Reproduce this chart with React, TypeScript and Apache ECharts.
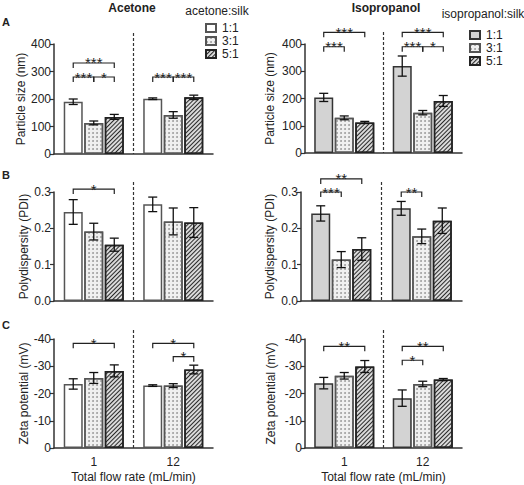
import React, { useEffect, useRef } from 'react';
import * as echarts from 'echarts';

const flowRates = ['1', '12'];
const ratios = ['1:1', '3:1', '5:1'];

// rows: 1:1, 3:1, 5:1 ; columns: flow rate 1, 12 mL/min
const acetoneSizeMean = [[190, 201], [113, 142], [135, 206]];
const acetoneSizeSD = [[10, 3], [7, 12], [9, 8]];
const isoSizeMean = [[204, 319], [129, 148], [112, 191]];
const isoSizeSD = [[15, 37], [7, 8], [4, 20]];
const acetonePdiMean = [[0.245, 0.266], [0.191, 0.219], [0.155, 0.216]];
const acetonePdiSD = [[0.034, 0.02], [0.023, 0.037], [0.018, 0.041]];
const isoPdiMean = [[0.241, 0.255], [0.114, 0.178], [0.143, 0.221]];
const isoPdiSD = [[0.021, 0.019], [0.022, 0.02], [0.031, 0.035]];
const acetoneZetaMean = [[-23.5, -22.9], [-25.7, -22.9], [-28.3, -28.8]];
const acetoneZetaSD = [[1.9, 0.3], [2.0, 0.7], [2.2, 1.6]];
const isoZetaMean = [[-23.8, -18.3], [-26.5, -23.5], [-29.9, -25.1]];
const isoZetaSD = [[2.1, 3.0], [1.2, 1.0], [2.2, 0.4]];

// significance brackets: [flowRateIndex, fromBar, toBar, level, stars]
const acetoneSizeSig: any[] = [[0, 0, 2, 331, '***'], [0, 0, 1, 280, '***'], [0, 1, 2, 280, '*'], [1, 0, 1, 280, '***'], [1, 1, 2, 280, '***']];
const isoSizeSig: any[] = [[0, 0, 2, 443, '***'], [0, 0, 1, 390, '***'], [1, 0, 2, 443, '***'], [1, 0, 1, 390, '***'], [1, 1, 2, 390, '*']];
const acetonePdiSig: any[] = [[0, 0, 2, 0.308, '*']];
const isoPdiSig: any[] = [[0, 0, 2, 0.336, '**'], [0, 0, 1, 0.3, '***'], [1, 0, 1, 0.3, '**']];
const acetoneZetaSig: any[] = [[0, 0, 2, -38.4, '*'], [1, 0, 2, -38.4, '*'], [1, 1, 2, -33.5, '*']];
const isoZetaSig: any[] = [[0, 0, 2, -37.3, '**'], [1, 0, 2, -37.3, '**'], [1, 0, 1, -32.2, '*']];

const yTicksSize = { min: 0, max: 400, interval: 100 };
const yTicksPdi = { min: 0, max: 0.3, interval: 0.1 };
const yTicksZeta = { min: -40, max: 0, interval: 10 };

const FONT = '"Liberation Sans", Arial, sans-serif';
const BAR_W = 19;
const BAR_GAP = 0.08;
const INK = '#222';

const dotDecal = {
  symbol: 'circle', symbolSize: 0.9, color: '#9a9a9a', backgroundColor: '#f0f0f0',
  dashArrayX: [1.2, 1.2], dashArrayY: [1.2, 1.2], rotation: 0,
};
const hatchDecal = {
  symbol: 'rect', symbolSize: 1, color: '#2a2a2a', backgroundColor: '#dadada',
  dashArrayX: [1, 0], dashArrayY: [0.9, 1.4], rotation: -Math.PI / 4,
};

function barStyle(solvent: string, k: number) {
  if (k === 0) {
    return solvent === 'ac'
      ? { color: '#ffffff', borderColor: '#555', borderWidth: 1.5 }
      : { color: '#d3d3d3', borderColor: '#333', borderWidth: 1.5 };
  }
  if (k === 1) return { color: '#f0f0f0', borderColor: '#555', borderWidth: 1.5, decal: dotDecal };
  return { color: '#dadada', borderColor: '#222', borderWidth: 1.5, decal: hatchDecal };
}

const panels = [
  { solvent: 'ac', mean: acetoneSizeMean, sd: acetoneSizeSD, sig: acetoneSizeSig, ticks: yTicksSize, yName: 'Particle size (nm)', left: 54, width: 159, top: 44, height: 110, nameGap: 21, dashTop: 33, fmt: (v: number) => String(v), inverse: false, last: false },
  { solvent: 'iso', mean: isoSizeMean, sd: isoSizeSD, sig: isoSizeSig, ticks: yTicksSize, yName: 'Particle size (nm)', left: 305, width: 157, top: 44, height: 109, nameGap: 29, dashTop: 32, fmt: (v: number) => String(v), inverse: false, last: false },
  { solvent: 'ac', mean: acetonePdiMean, sd: acetonePdiSD, sig: acetonePdiSig, ticks: yTicksPdi, yName: 'Polydispersity (PDI)', left: 54, width: 159, top: 192, height: 109, nameGap: 20, dashTop: 182, fmt: (v: number) => v.toFixed(1), inverse: false, last: false },
  { solvent: 'iso', mean: isoPdiMean, sd: isoPdiSD, sig: isoPdiSig, ticks: yTicksPdi, yName: 'Polydispersity (PDI)', left: 301, width: 161, top: 192, height: 109, nameGap: 25, dashTop: 182, fmt: (v: number) => v.toFixed(1), inverse: false, last: false },
  { solvent: 'ac', mean: acetoneZetaMean, sd: acetoneZetaSD, sig: acetoneZetaSig, ticks: yTicksZeta, yName: 'Zeta potential (mV)', left: 54, width: 159, top: 339, height: 109, nameGap: 20, dashTop: 330, fmt: (v: number) => String(v), inverse: true, last: true },
  { solvent: 'iso', mean: isoZetaMean, sd: isoZetaSD, sig: isoZetaSig, ticks: yTicksZeta, yName: 'Zeta potential (mV)', left: 305, width: 157, top: 339, height: 109, nameGap: 28, dashTop: 330, fmt: (v: number) => String(v), inverse: true, last: true },
];

const barOffset = (k: number) => (k - 1) * BAR_W * (1 + BAR_GAP);

function buildOption() {
  const grid: any[] = [];
  const xAxis: any[] = [];
  const yAxis: any[] = [];
  const series: any[] = [];
  const graphic: any[] = [];

  panels.forEach((p, i) => {
    grid.push({ left: p.left, width: p.width, top: p.top, height: p.height, containLabel: false });
    xAxis.push({
      type: 'category', gridIndex: i, data: flowRates,
      axisLine: { lineStyle: { color: '#333', width: 1.5 } },
      axisTick: { show: false },
      axisLabel: { show: p.last, fontFamily: FONT, fontSize: 12, color: INK, margin: 8 },
      name: p.last ? 'Total flow rate (mL/min)' : '', nameLocation: 'middle', nameGap: 23,
      nameTextStyle: { fontFamily: FONT, fontSize: 12, color: INK },
      splitLine: { show: false },
    });
    yAxis.push({
      type: 'value', gridIndex: i, min: p.ticks.min, max: p.ticks.max, interval: p.ticks.interval,
      inverse: p.inverse,
      axisLine: { show: true, lineStyle: { color: '#333', width: 1.5 } },
      axisTick: { show: true, length: 4, lineStyle: { color: '#333', width: 1.2 } },
      axisLabel: { fontFamily: FONT, fontSize: 12, color: INK, margin: 3, formatter: p.fmt },
      splitLine: { show: false },
      name: p.yName, nameLocation: 'middle', nameGap: p.nameGap,
      nameTextStyle: { fontFamily: FONT, fontSize: 12, color: INK },
    });

    for (let k = 0; k < 3; k++) {
      series.push({
        type: 'bar', name: `${p.solvent}|${ratios[k]}`, xAxisIndex: i, yAxisIndex: i,
        data: p.mean[k], barWidth: BAR_W, barGap: `${BAR_GAP * 100}%`,
        itemStyle: barStyle(p.solvent, k), z: 2, silent: true,
      });
      series.push({
        type: 'custom', xAxisIndex: i, yAxisIndex: i, z: 5, silent: true,
        data: p.mean[k].map((m, j) => [j, m, p.sd[k][j]]),
        encode: { x: 0, y: 1 },
        renderItem: (params: any, api: any) => {
          const cat = api.value(0);
          const m = api.value(1);
          const s = api.value(2);
          const hi = api.coord([cat, m + s]);
          const lo = api.coord([cat, m - s]);
          const x = hi[0] + barOffset(k);
          const st = { stroke: '#111', lineWidth: 1.3 };
          const cap = 4.5;
          return {
            type: 'group', children: [
              { type: 'line', shape: { x1: x, y1: hi[1], x2: x, y2: lo[1] }, style: st },
              { type: 'line', shape: { x1: x - cap, y1: hi[1], x2: x + cap, y2: hi[1] }, style: st },
              { type: 'line', shape: { x1: x - cap, y1: lo[1], x2: x + cap, y2: lo[1] }, style: st },
            ],
          };
        },
      });
    }

    const sig = p.sig;
    series.push({
      type: 'custom', xAxisIndex: i, yAxisIndex: i, z: 6, silent: true,
      data: sig.map((s: any[]) => [s[0], s[3]]),
      encode: { x: 0, y: 1 },
      renderItem: (params: any, api: any) => {
        const s = sig[params.dataIndex];
        const c = api.coord([api.value(0), api.value(1)]);
        const x1 = c[0] + barOffset(s[1]);
        const x2 = c[0] + barOffset(s[2]);
        const y = c[1];
        const tick = 5;
        return {
          type: 'group', children: [
            { type: 'polyline', shape: { points: [[x1, y + tick], [x1, y], [x2, y], [x2, y + tick]] }, style: { stroke: INK, lineWidth: 1.2, fill: 'none' } },
            { type: 'text', x: (x1 + x2) / 2, y: y, style: { text: s[4], fontFamily: FONT, fontSize: 15, fill: INK, align: 'center', verticalAlign: 'middle' } },
          ],
        };
      },
    });

    const midX = p.left + p.width / 2;
    graphic.push({
      type: 'line', silent: true,
      shape: { x1: midX, y1: p.dashTop, x2: midX, y2: p.top + p.height },
      style: { stroke: '#333', lineWidth: 1.2, lineDash: [3, 2] },
    });
  });

  const txt = (text: string, x: number, y: number, size: number, bold: boolean, align = 'left') => ({
    type: 'text', x, y, silent: true,
    style: { text, fontFamily: FONT, fontSize: size, fontWeight: bold ? 'bold' : 'normal', fill: INK, align, verticalAlign: 'middle' },
  });
  graphic.push(txt('Acetone', 132, 8, 12, true, 'center'));
  graphic.push(txt('Isopropanol', 386, 8, 12, true, 'center'));
  graphic.push(txt('acetone:silk', 217, 11, 12, false, 'center'));
  graphic.push(txt('isopropanol:silk', 483, 14, 12, false, 'center'));
  graphic.push(txt('A', 2, 22, 11, true));
  graphic.push(txt('B', 2, 175, 11, true));
  graphic.push(txt('C', 2, 325, 11, true));

  const legendBase = {
    orient: 'vertical', itemWidth: 10, itemHeight: 8, itemGap: 1, icon: 'rect',
    textStyle: { fontFamily: FONT, fontSize: 12, color: INK, padding: [0, 0, 0, 1] },
    formatter: (name: string) => name.split('|')[1],
    selectedMode: false,
  };

  return {
    animation: false,
    backgroundColor: '#fff',
    grid, xAxis, yAxis, series, graphic,
    legend: [
      { ...legendBase, left: 200, top: 17, data: ratios.map((r) => `ac|${r}`) },
      { ...legendBase, left: 464, top: 24, data: ratios.map((r) => `iso|${r}`) },
    ],
  };
}

export default function App() {
  const ref = useRef<HTMLDivElement>(null);
  useEffect(() => {
    if (!ref.current) return;
    const chart = echarts.init(ref.current, undefined, { renderer: 'svg' });
    chart.setOption(buildOption() as any);
    return () => chart.dispose();
  }, []);
  return <div ref={ref} style={{ position: 'absolute', left: 0, top: 0, width: 524, height: 485 }} />;
}
